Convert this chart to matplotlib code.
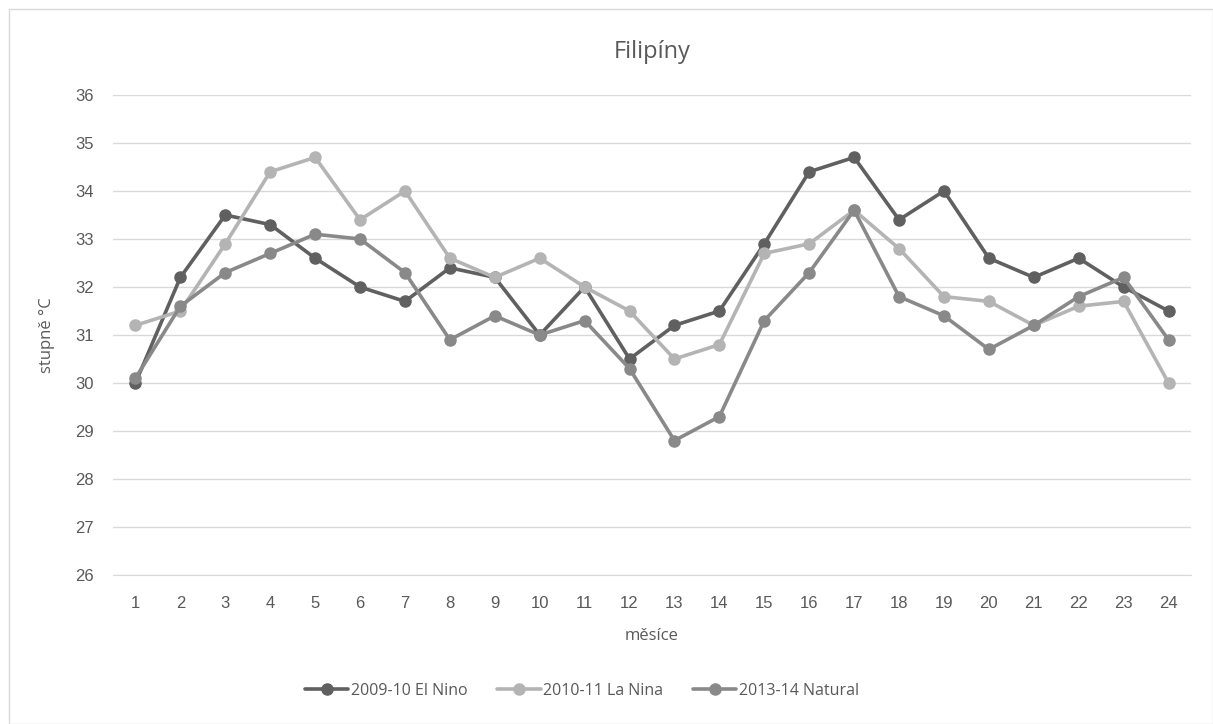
import matplotlib
matplotlib.use("Agg")
import matplotlib.pyplot as plt
from matplotlib.patches import Rectangle

months = list(range(1, 25))
el_nino = [30.0, 32.2, 33.5, 33.3, 32.6, 32.0, 31.7, 32.4, 32.2, 31.0, 32.0, 30.5,
           31.2, 31.5, 32.9, 34.4, 34.7, 33.4, 34.0, 32.6, 32.2, 32.6, 32.0, 31.5]
la_nina = [31.2, 31.5, 32.9, 34.4, 34.7, 33.4, 34.0, 32.6, 32.2, 32.6, 32.0, 31.5,
           30.5, 30.8, 32.7, 32.9, 33.6, 32.8, 31.8, 31.7, 31.2, 31.6, 31.7, 30.0]
natural = [30.1, 31.6, 32.3, 32.7, 33.1, 33.0, 32.3, 30.9, 31.4, 31.0, 31.3, 30.3,
           28.8, 29.3, 31.3, 32.3, 33.6, 31.8, 31.4, 30.7, 31.2, 31.8, 32.2, 30.9]
series_names = ["2009-10 El Nino", "2010-11 La Nina", "2013-14 Natural"]
yticks = list(range(26, 37))

colors = ["#606060", "#b4b4b4", "#898989"]
text_color = "#595959"

fig = plt.figure(figsize=(12.13, 7.24), dpi=100)
fig.patches.append(Rectangle((9/1213, 0), 1 - 9/1213, 1 - 9/724, transform=fig.transFigure,
                             fill=False, edgecolor="#d9d9d9", linewidth=1.0))
ax = fig.add_axes([113/1213, 1 - 575/724, (1191 - 113)/1213, (575 - 95)/724])

for data, name, c in zip([el_nino, la_nina, natural], series_names, colors):
    ax.plot(months, data, color=c, linewidth=2.6, marker="o", markersize=8,
            label=name, solid_capstyle="round")

ax.set_xlim(0.5, 24.5)
ax.set_ylim(26, 36)
ax.set_yticks(yticks)
ax.set_xticks(months)
ax.grid(axis="y", color="#d9d9d9", linewidth=1.0)
ax.set_axisbelow(True)
for s in ["top", "right", "left"]:
    ax.spines[s].set_visible(False)
ax.spines["bottom"].set_color("#d9d9d9")
ax.tick_params(axis="both", length=0, colors=text_color, labelsize=12)
ax.tick_params(axis="x", pad=15)
ax.tick_params(axis="y", pad=14)
for lbl in ax.get_xticklabels() + ax.get_yticklabels():
    lbl.set_family("Liberation Sans")

ax.set_title("Filipíny", fontsize=17, color=text_color, pad=27, family="Open Sans")
ax.set_xlabel("měsíce", fontsize=12, color=text_color, labelpad=12, family="Open Sans")
ax.set_ylabel("stupně °C", fontsize=12, color=text_color, labelpad=14, family="Open Sans")

leg = fig.legend(loc="center", bbox_to_anchor=(582/1213, 1 - 691/724), ncol=3, frameon=False,
                 fontsize=11.5, handlelength=2.7, columnspacing=1.9, handletextpad=0.15)
for t in leg.get_texts():
    t.set_color(text_color)
    t.set_family("Open Sans")

fig.savefig("out.png", dpi=100)
